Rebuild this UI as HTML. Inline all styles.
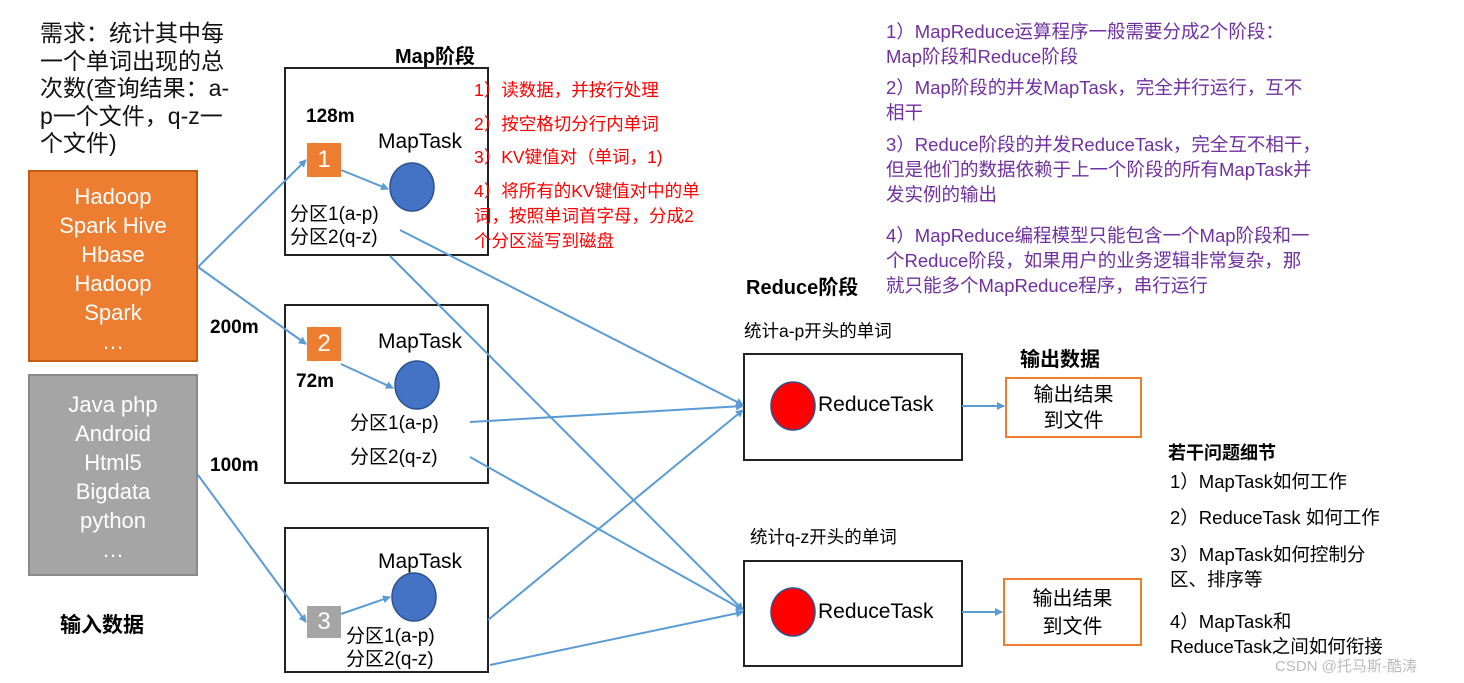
<!DOCTYPE html>
<html><head><meta charset="utf-8"><style>
body{margin:0;width:1464px;height:683px;background:#fff;position:relative;overflow:hidden;font-family:"Liberation Sans","Noto Sans CJK SC",sans-serif;}
.a{position:absolute;white-space:nowrap;}
.box{position:absolute;border:2px solid #222;box-sizing:border-box;}
.b{font-weight:bold;}
.pu{color:#7030a0;font-size:18.5px;line-height:25px;}
.rd{color:#f00;font-size:17.5px;}
.sq{position:absolute;width:34px;height:34px;color:#fff;font-size:24px;text-align:center;line-height:34px;}
</style></head><body>
<div class="a" style="left:40px;top:20px;font-size:23px;line-height:27.5px;color:#111">需求：统计其中每<br>一个单词出现的总<br>次数(查询结果：a-<br>p一个文件，q-z一<br>个文件)</div>
<div class="a" style="left:28px;top:170px;width:170px;height:192px;background:#ed7d31;border:2px solid #c55a11;box-sizing:border-box;color:#fff;font-size:22px;line-height:29px;text-align:center;padding-top:10px">Hadoop<br>Spark Hive<br>Hbase<br>Hadoop<br>Spark<br>…</div>
<div class="a" style="left:28px;top:374px;width:170px;height:202px;background:#a5a5a5;border:2px solid #8a8a8a;box-sizing:border-box;color:#fff;font-size:22px;line-height:29px;text-align:center;padding-top:14px">Java php<br>Android<br>Html5<br>Bigdata<br>python<br>…</div>
<div class="a b" style="left:60px;top:609px;font-size:21px">输入数据</div>
<div class="a b" style="left:395px;top:40px;font-size:20px">Map阶段</div>
<div class="box" style="left:284px;top:67px;width:205px;height:189px"></div>
<div class="box" style="left:284px;top:304px;width:205px;height:180px"></div>
<div class="box" style="left:284px;top:527px;width:205px;height:146px"></div>
<div class="a b" style="left:306px;top:106px;font-size:19px">128m</div>
<div class="a b" style="left:210px;top:317px;font-size:19px">200m</div>
<div class="a b" style="left:296px;top:371px;font-size:19px">72m</div>
<div class="a b" style="left:210px;top:455px;font-size:19px">100m</div>
<div class="sq" style="left:307px;top:143px;background:#ed7d31">1</div>
<div class="sq" style="left:307px;top:327px;background:#ed7d31">2</div>
<div class="sq" style="left:307px;top:606px;height:32px;line-height:32px;background:#a5a5a5">3</div>
<div class="a" style="left:378px;top:130px;font-size:21px">MapTask</div>
<div class="a" style="left:378px;top:330px;font-size:21px">MapTask</div>
<div class="a" style="left:378px;top:550px;font-size:21px">MapTask</div>
<div class="a" style="left:290px;top:203px;font-size:19px;line-height:23px">分区1(a-p)<br>分区2(q-z)</div>
<div class="a" style="left:350px;top:407px;font-size:19px;line-height:34px">分区1(a-p)<br>分区2(q-z)</div>
<div class="a" style="left:346px;top:625px;font-size:19px;line-height:23px">分区1(a-p)<br>分区2(q-z)</div>
<div class="a rd" style="left:474px;top:77px">1）读数据，并按行处理</div>
<div class="a rd" style="left:474px;top:111px">2）按空格切分行内单词</div>
<div class="a rd" style="left:474px;top:144px">3）KV键值对（单词，1)</div>
<div class="a rd" style="left:474px;top:179px;line-height:25px">4）将所有的KV键值对中的单<br>词，按照单词首字母，分成2<br>个分区溢写到磁盘</div>
<div class="a pu" style="left:886px;top:19px">1）MapReduce运算程序一般需要分成2个阶段：<br>Map阶段和Reduce阶段</div>
<div class="a pu" style="left:886px;top:75px">2）Map阶段的并发MapTask，完全并行运行，互不<br>相干</div>
<div class="a pu" style="left:886px;top:132px">3）Reduce阶段的并发ReduceTask，完全互不相干，<br>但是他们的数据依赖于上一个阶段的所有MapTask并<br>发实例的输出</div>
<div class="a pu" style="left:886px;top:223px">4）MapReduce编程模型只能包含一个Map阶段和一<br>个Reduce阶段，如果用户的业务逻辑非常复杂，那<br>就只能多个MapReduce程序，串行运行</div>
<div class="a b" style="left:746px;top:271px;font-size:20px">Reduce阶段</div>
<div class="a" style="left:744px;top:318px;font-size:17.5px">统计a-p开头的单词</div>
<div class="a" style="left:750px;top:524px;font-size:17.5px">统计q-z开头的单词</div>
<div class="box" style="left:743px;top:353px;width:220px;height:108px"></div>
<div class="box" style="left:743px;top:560px;width:220px;height:107px"></div>
<div class="a" style="left:818px;top:393px;font-size:21px">ReduceTask</div>
<div class="a" style="left:818px;top:600px;font-size:21px">ReduceTask</div>
<div class="a b" style="left:1020px;top:343px;font-size:20px">输出数据</div>
<div class="a" style="left:1005px;top:377px;width:137px;height:61px;border:2px solid #ed7d31;box-sizing:border-box;text-align:center;font-size:20px;line-height:26px;padding-top:3px">输出结果<br>到文件</div>
<div class="a" style="left:1003px;top:578px;width:139px;height:68px;border:2px solid #ed7d31;box-sizing:border-box;text-align:center;font-size:20px;line-height:28px;padding-top:5px">输出结果<br>到文件</div>
<div class="a b" style="left:1168px;top:439px;font-size:18px">若干问题细节</div>
<div class="a" style="left:1170px;top:468px;font-size:18.5px">1）MapTask如何工作</div>
<div class="a" style="left:1170px;top:504px;font-size:18.5px">2）ReduceTask 如何工作</div>
<div class="a" style="left:1170px;top:542px;font-size:18.5px;line-height:25px">3）MapTask如何控制分<br>区、排序等</div>
<div class="a" style="left:1170px;top:609px;font-size:18.5px;line-height:25px">4）MapTask和<br>ReduceTask之间如何衔接</div>
<div class="a" style="left:1275px;top:655px;font-size:15px;color:#bbb">CSDN @托马斯-酷涛</div>
<svg width="1464" height="683" style="position:absolute;left:0;top:0">
<defs><marker id="m" markerWidth="8" markerHeight="8" refX="7" refY="4" orient="auto" markerUnits="userSpaceOnUse" viewBox="0 0 8 8"><path d="M0,0L8,4L0,8z" fill="#5b9bd5"/></marker></defs>
<g stroke="#5b9bd5" stroke-width="2" fill="none" marker-end="url(#m)">
<line x1="198" y1="267" x2="306" y2="160"/>
<line x1="198" y1="267" x2="306" y2="344"/>
<line x1="198" y1="475" x2="306" y2="622"/>
<line x1="341" y1="170" x2="388" y2="189"/>
<line x1="341" y1="364" x2="393" y2="388"/>
<line x1="341" y1="614" x2="390" y2="597"/>
<line x1="400" y1="230" x2="743" y2="405"/>
<line x1="390" y1="256" x2="743" y2="610"/>
<line x1="470" y1="422" x2="743" y2="406"/>
<line x1="470" y1="457" x2="743" y2="610"/>
<line x1="488" y1="620" x2="743" y2="410"/>
<line x1="490" y1="665" x2="743" y2="612"/>
<line x1="962" y1="406" x2="1004" y2="406"/>
<line x1="962" y1="612" x2="1002" y2="612"/>
</g>
<g stroke="#2f528f" stroke-width="1.5">
<ellipse cx="412" cy="187" rx="22" ry="24" fill="#4472c4"/>
<ellipse cx="417" cy="385" rx="22" ry="24" fill="#4472c4"/>
<ellipse cx="414" cy="597" rx="22" ry="24" fill="#4472c4"/>
<ellipse cx="793" cy="406" rx="22" ry="24" fill="#f00"/>
<ellipse cx="793" cy="612" rx="22" ry="24" fill="#f00"/>
</g>
</svg>
</body></html>
